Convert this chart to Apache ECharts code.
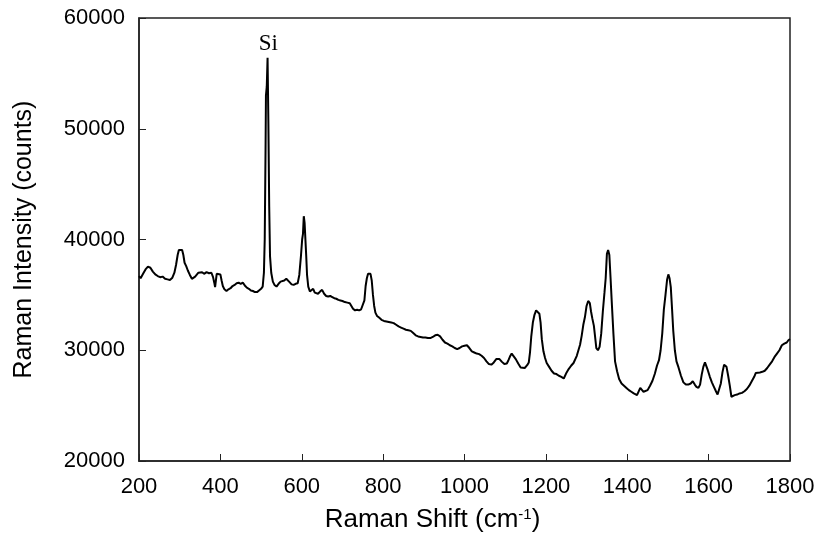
<!DOCTYPE html>
<html>
<head>
<meta charset="utf-8">
<script src="https://cdn.jsdelivr.net/npm/echarts@6/dist/echarts.min.js"></script>
<style>html,body{margin:0;padding:0;background:#fff}#c{width:818px;height:537px}</style>
</head>
<body>
<div id="c"></div>
<script>
const xTicks = [200, 400, 600, 800, 1000, 1200, 1400, 1600, 1800];
const yTicks = [20000, 30000, 40000, 50000, 60000];
const shifts = [200,204,210,216,222,228,234,240,246,252,258,264,270,276,282,287,291,295,298,302,306,309,312,316,320,325,330,334,338,342,346,350,355,360,366,372,378,382,385,387,389,391,395,400,403,406,410,415,420,425,430,435,440,445,450,455,460,465,470,475,480,485,490,495,500,504,507,509,511,512,514,516,518,520,522,525,529,533,538,543,548,552,557,562,566,570,575,580,585,590,594,598,601,603,605,607,609,611,613,616,620,624,628,632,636,640,645,650,655,660,665,670,675,680,685,690,695,700,706,712,718,722,726,731,736,741,746,750,754,757,760,763,766,769,772,775,778,781,785,790,796,802,808,814,820,826,832,838,844,850,856,862,868,874,880,886,892,898,904,910,916,922,928,934,940,946,952,958,964,970,976,982,988,994,1000,1006,1012,1018,1024,1030,1036,1042,1048,1054,1060,1066,1072,1078,1082,1086,1092,1098,1104,1108,1112,1116,1120,1126,1132,1138,1142,1148,1154,1158,1161,1164,1168,1172,1176,1180,1184,1187,1190,1194,1198,1202,1208,1214,1220,1226,1232,1238,1244,1248,1251,1256,1262,1268,1272,1276,1280,1284,1288,1292,1296,1300,1304,1308,1311,1314,1318,1321,1324,1328,1332,1336,1340,1344,1347,1350,1353,1356,1359,1362,1366,1370,1375,1380,1386,1392,1398,1404,1410,1416,1420,1424,1428,1432,1436,1440,1444,1450,1456,1462,1468,1473,1478,1482,1486,1490,1494,1498,1501,1504,1507,1510,1513,1517,1521,1526,1532,1538,1544,1550,1556,1561,1566,1570,1575,1579,1583,1587,1591,1594,1598,1603,1608,1613,1618,1622,1626,1630,1634,1638,1641,1644,1648,1652,1656,1660,1664,1670,1676,1682,1688,1694,1700,1706,1712,1716,1720,1726,1732,1738,1744,1750,1756,1762,1768,1774,1780,1786,1792,1796,1800];
const intensities = [36700,36500,36900,37300,37550,37450,37100,36850,36700,36600,36650,36450,36400,36350,36550,37000,37700,38600,39050,39100,39050,38600,37900,37600,37200,36800,36450,36400,36650,36800,37000,36950,37050,36900,37050,36950,37000,36600,36100,35700,36300,36900,36850,36850,36300,35800,35500,35350,35500,35600,35800,35900,36050,36100,36000,36100,35850,35650,35550,35400,35350,35250,35250,35400,35550,35750,37000,40000,48000,53000,53800,56400,50500,43000,38500,37000,36200,35900,35750,36000,36200,36300,36300,36450,36400,36150,35950,35900,36000,36050,36800,38500,40000,40500,42100,41500,40000,38500,36800,35750,35300,35150,35550,35200,35100,35100,35300,35450,35100,34900,34850,34900,34800,34700,34650,34550,34500,34450,34350,34300,34250,34000,33750,33600,33650,33600,33700,33650,34500,35800,36500,36900,37050,36900,36300,35000,34000,33400,33100,32950,32750,32650,32600,32550,32500,32450,32300,32150,32050,31950,31850,31800,31750,31550,31350,31250,31200,31150,31150,31100,31100,31200,31350,31400,31250,30950,30700,30600,30450,30350,30200,30100,30200,30350,30400,30450,30200,29900,29800,29700,29650,29500,29300,29000,28750,28700,28900,29200,29350,29200,28950,28750,28800,29100,29450,29700,29550,29200,28800,28450,28300,28400,28650,28900,29800,31200,32500,33200,33600,33650,33300,32500,31000,29900,29300,28850,28500,28150,27900,27850,27700,27600,27450,27500,28000,28300,28600,28850,29000,29500,30000,30500,31300,32300,33000,34000,34450,34250,33500,32900,32200,31200,30200,30000,30300,31500,33500,35200,36500,38700,39050,38600,36500,34300,31500,29000,28100,27400,27000,26800,26600,26400,26250,26100,25950,25950,26100,26600,26700,26250,26200,26400,26800,27250,27900,28600,29100,30000,31500,33700,35000,36400,36850,36500,35700,33800,31800,30000,29000,28450,27700,27100,26900,26900,27000,27200,26900,26700,26600,26900,27800,28500,28900,28750,28200,27600,27100,26700,26300,26000,26100,27000,28000,28700,28850,28500,27700,26800,25800,25900,25950,26000,26100,26150,26300,26500,26800,27200,27600,27950,27900,28000,28050,28150,28400,28700,29000,29400,29700,30000,30450,30600,30700,30900,31000];
const peakLabel = {text: 'Si', shift: 518, intensity: 57650};

const chart = echarts.init(document.getElementById('c'), null, {renderer: 'canvas'});
const data = shifts.map((s, i) => [s, intensities[i]]);
const axisColor = '#222';
const plain = v => String(v);
chart.setOption({
  animation: false,
  backgroundColor: '#fff',
  grid: {left: 139, right: 28, top: 18, bottom: 76, outerBoundsMode: 'none', containLabel: false, show: true, borderColor: axisColor, borderWidth: 1.5, backgroundColor: 'transparent'},
  xAxis: {
    type: 'value', min: xTicks[0], max: xTicks[xTicks.length - 1], interval: 200,
    name: 'Raman Shift (cm{sup|-1})', nameLocation: 'middle', nameGap: 46,
    nameTextStyle: {fontFamily: 'Liberation Sans', fontSize: 26, color: '#000', padding: [0, 64, 0, 0], rich: {sup: {fontFamily: 'Liberation Sans', fontSize: 15, color: '#000', verticalAlign: 'top', padding: [0, 0, 10, 0]}}},
    axisLine: {show: true, lineStyle: {color: axisColor, width: 1.5}},
    axisTick: {show: true, inside: true, length: 7, lineStyle: {color: axisColor, width: 1}},
    axisLabel: {fontFamily: 'Liberation Sans', fontSize: 22, color: '#000', margin: 15, formatter: plain},
    splitLine: {show: false}
  },
  yAxis: {
    type: 'value', min: yTicks[0], max: yTicks[yTicks.length - 1], interval: 10000,
    name: 'Raman Intensity (counts)', nameLocation: 'middle', nameGap: 102,
    nameTextStyle: {fontFamily: 'Liberation Sans', fontSize: 25, color: '#000'},
    axisLine: {show: true, lineStyle: {color: axisColor, width: 1.5}},
    axisTick: {show: true, inside: true, length: 7, lineStyle: {color: axisColor, width: 1}},
    axisLabel: {fontFamily: 'Liberation Sans', fontSize: 22, color: '#000', margin: 14, formatter: plain},
    splitLine: {show: false}
  },
  series: [{
    type: 'line', data: data, symbol: 'none', smooth: false,
    lineStyle: {color: '#000', width: 2},
    markPoint: {
      symbol: 'circle', symbolSize: 0, silent: true,
      label: {show: true, position: 'inside', formatter: peakLabel.text, fontFamily: 'Liberation Serif', fontSize: 23, color: '#000'},
      data: [{coord: [peakLabel.shift, peakLabel.intensity]}]
    }
  }]
});
</script>
</body>
</html>
